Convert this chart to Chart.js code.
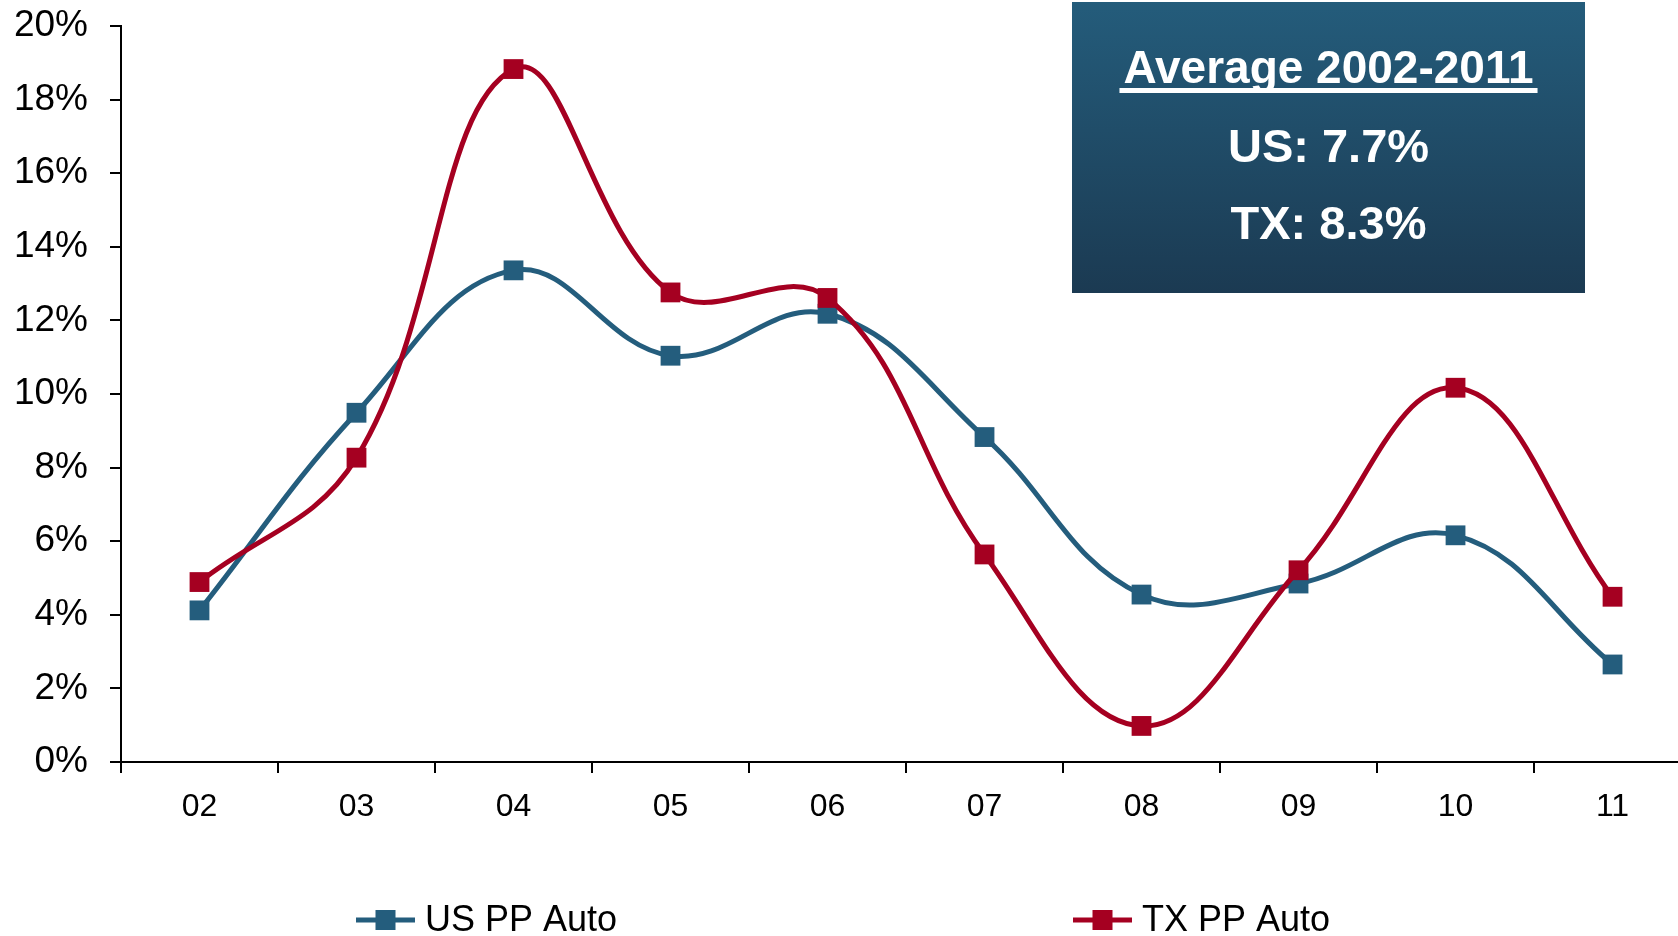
<!DOCTYPE html>
<html>
<head>
<meta charset="utf-8">
<script src="https://cdn.jsdelivr.net/npm/chart.js@4.4.0/dist/chart.umd.min.js"></script>
<style>
html,body{margin:0;padding:0;background:#fff;}
#wrap{width:1678px;height:936px;}
</style>
</head>
<body>
<div id="wrap"><canvas id="c" width="1678" height="936"></canvas></div>
<script>
// values (percent)
const years = ['02','03','04','05','06','07','08','09','10','11'];
const usAuto = [4.12, 9.49, 13.36, 11.04, 12.18, 8.83, 4.55, 4.85, 6.16, 2.65];
const txAuto = [4.89, 8.27, 18.83, 12.76, 12.61, 5.64, 0.98, 5.21, 10.17, 4.49];
const seriesNames = ['US PP Auto', 'TX PP Auto'];
const seriesColors = ['#245d7d', '#a50021'];
const boxTitle = 'Average 2002-2011';
const boxLines = ['US: 7.7%', 'TX: 8.3%'];

const FONT = '"Liberation Sans", Arial, sans-serif';

// legend under the chart, drawn from the datasets
const legendPlugin = {
  id: 'bottomLegend',
  afterDraw(chart){
    const ctx = chart.ctx;
    const starts = [356, 1073];
    const y = 920;
    chart.data.datasets.forEach((ds, i)=>{
      const x0 = starts[i];
      ctx.save();
      ctx.strokeStyle = ds.borderColor;
      ctx.lineWidth = 5;
      ctx.beginPath(); ctx.moveTo(x0, y); ctx.lineTo(x0 + 59, y); ctx.stroke();
      ctx.fillStyle = ds.borderColor;
      ctx.fillRect(x0 + 19.5, y - 10, 20, 20);
      ctx.fillStyle = '#000';
      ctx.font = '36px ' + FONT;
      ctx.textBaseline = 'middle';
      ctx.textAlign = 'left';
      ctx.fillText(ds.label, x0 + 69, y + 1);
      ctx.restore();
    });
  }
};

// the "Average" box at top right
const boxPlugin = {
  id: 'avgBox',
  afterDraw(chart){
    const ctx = chart.ctx;
    const bx = 1072, by = 2, bw = 513, bh = 291;
    ctx.save();
    const g = ctx.createLinearGradient(0, by, 0, by + bh);
    g.addColorStop(0, '#245c7b');
    g.addColorStop(1, '#1b3a52');
    ctx.fillStyle = g;
    ctx.fillRect(bx, by, bw, bh);
    const cx = bx + bw / 2;
    ctx.fillStyle = '#fff';
    ctx.textAlign = 'center';
    ctx.textBaseline = 'alphabetic';
    ctx.font = 'bold 46px ' + FONT;
    ctx.fillText(boxTitle, cx, 83);
    const tw = ctx.measureText(boxTitle).width;
    ctx.fillRect(cx - tw / 2 - 4, 88, tw + 8, 5);
    ctx.font = 'bold 47px ' + FONT;
    ctx.fillText(boxLines[0], cx, 162);
    ctx.fillText(boxLines[1], cx, 239);
    ctx.restore();
  }
};

function makeSet(label, data, color, order){
  return {
    label: label,
    data: data.map((v, i) => ({ x: i, y: v })),
    borderColor: color,
    backgroundColor: color,
    borderWidth: 5,
    tension: 0.4,
    pointStyle: 'rect',
    pointRadius: 14,
    pointHoverRadius: 14,
    pointBorderWidth: 0,
    pointBackgroundColor: color,
    clip: false,
    order: order
  };
}

new Chart(document.getElementById('c'), {
  type: 'line',
  data: {
    datasets: [
      makeSet(seriesNames[0], usAuto, seriesColors[0], 1),
      makeSet(seriesNames[1], txAuto, seriesColors[1], 0)
    ]
  },
  options: {
    responsive: false,
    animation: false,
    devicePixelRatio: 1,
    layout: { autoPadding: false, padding: { top: 26, left: 0, right: 0, bottom: 0 } },
    plugins: { legend: { display: false }, tooltip: { enabled: false } },
    scales: {
      x: {
        type: 'linear',
        min: -0.5,
        max: 9.417,  // axis runs past the right edge, as in the original
        grid: { offset: true, drawOnChartArea: false, tickLength: 11, color: '#000', lineWidth: 2 },
        border: { color: '#000', width: 2 },
        ticks: { color: '#000', font: { family: FONT, size: 32 }, padding: 15, maxRotation: 0, autoSkip: false,
          callback: (v, i) => years[i] },
        afterBuildTicks(s){ s.ticks = years.map((_, i) => ({ value: i })); },
        afterFit(s){ s.height = 174; s.paddingLeft = 0; s.paddingRight = 0; }
      },
      y: {
        min: 0,
        max: 20,
        grid: { drawOnChartArea: false, tickLength: 11, color: '#000', lineWidth: 2 },
        border: { color: '#000', width: 2 },
        ticks: { stepSize: 2, color: '#000', font: { family: FONT, size: 37 }, padding: 22,
          callback: v => v + '%' },
        afterFit(s){ s.width = 121; s.paddingTop = 0; s.paddingBottom = 0; }
      }
    }
  },
  plugins: [boxPlugin, legendPlugin]
});
</script>
</body>
</html>
